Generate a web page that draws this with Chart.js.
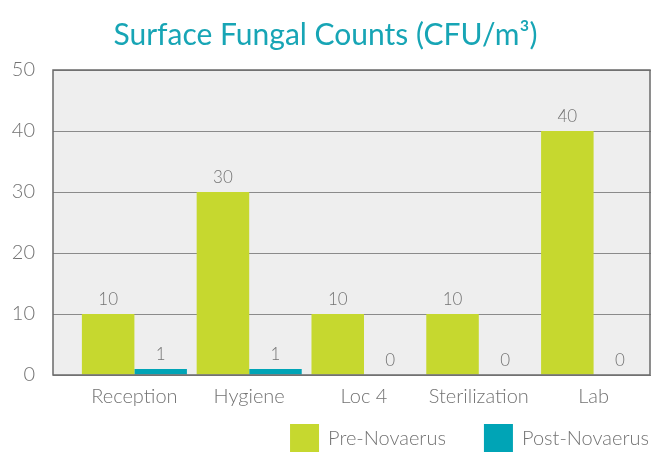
<!DOCTYPE html>
<html>
<head>
<meta charset="utf-8">
<script src="https://cdn.jsdelivr.net/npm/chart.js@4.4.0/dist/chart.umd.min.js"></script>
<style>
  body { margin: 0; background: #fff; }
  #wrap { width: 651px; height: 452px; position: relative; }
</style>
</head>
<body>
<div id="wrap"><canvas id="fungalChart"></canvas></div>
<script>
// ---- data ----
const categories = ["Reception", "Hygiene", "Loc 4", "Sterilization", "Lab"];
const preNovaerus = [10, 30, 10, 10, 40];
const postNovaerus = [1, 1, 0, 0, 0];
const yTickValues = [0, 10, 20, 30, 40, 50];
const seriesNames = ["Pre-Novaerus", "Post-Novaerus"];

const GREEN = "#c6d82f";
const TEAL = "#00a4b6";
const TEXT = "#737373";
const FONT = "Lato";

// grey plot background + frame (frame starts left of the first category)
const frameLeft = 53;
const plotFrame = {
  id: "plotFrame",
  beforeDraw(chart) {
    const y = chart.scales.y;
    const top = y.getPixelForValue(yTickValues[yTickValues.length - 1]);
    const bottom = y.getPixelForValue(yTickValues[0]);
    const ctx = chart.ctx;
    ctx.save();
    ctx.fillStyle = "#eeeeee";
    ctx.fillRect(frameLeft, top, 650 - frameLeft, bottom - top);
    ctx.restore();
  },
  afterDatasetsDraw(chart) {
    const y = chart.scales.y;
    const top = y.getPixelForValue(yTickValues[yTickValues.length - 1]);
    const bottom = y.getPixelForValue(yTickValues[0]);
    const ctx = chart.ctx;
    ctx.save();
    ctx.strokeStyle = "#6a6a6a";
    ctx.lineWidth = 1.5;
    ctx.strokeRect(frameLeft, top, 650 - frameLeft, bottom - top);
    ctx.restore();
  }
};

// value labels above each bar
const barValues = {
  id: "barValues",
  afterDatasetsDraw(chart) {
    const ctx = chart.ctx;
    ctx.save();
    ctx.font = "300 17px " + FONT;
    ctx.fillStyle = TEXT;
    ctx.textAlign = "center";
    ctx.textBaseline = "bottom";
    chart.data.datasets.forEach((ds, i) => {
      chart.getDatasetMeta(i).data.forEach((bar, j) => {
        ctx.fillText(String(ds.data[j]), bar.x, bar.y - 6);
      });
    });
    ctx.restore();
  }
};

// legend, bottom right
const bottomLegend = {
  id: "bottomLegend",
  afterDraw(chart) {
    const ctx = chart.ctx;
    ctx.save();
    ctx.font = "300 20px " + FONT;
    ctx.textBaseline = "middle";
    const boxW = 29, boxH = 28, boxTop = 424, gapText = 9, gapItem = 38;
    let x = 649;
    for (let i = chart.data.datasets.length - 1; i >= 0; i--) {
      const ds = chart.data.datasets[i];
      const w = ctx.measureText(ds.label).width;
      const textX = x - w;
      const boxX = textX - gapText - boxW;
      ctx.fillStyle = ds.backgroundColor;
      ctx.fillRect(boxX, boxTop, boxW, boxH);
      ctx.fillStyle = TEXT;
      ctx.textAlign = "left";
      ctx.fillText(ds.label, textX, boxTop + boxH / 2 + 1);
      x = boxX - gapItem;
    }
    ctx.restore();
  }
};

new Chart(document.getElementById("fungalChart"), {
  type: "bar",
  data: {
    labels: categories,
    datasets: [
      { label: seriesNames[0], data: preNovaerus, backgroundColor: GREEN },
      { label: seriesNames[1], data: postNovaerus, backgroundColor: TEAL }
    ]
  },
  options: {
    responsive: true,
    maintainAspectRatio: false,
    animation: false,
    layout: { padding: { left: 0, right: 0, top: 0, bottom: 44 } },
    datasets: {
      bar: { categoryPercentage: 0.915, barPercentage: 1.0 }
    },
    plugins: {
      legend: { display: false },
      tooltip: { enabled: false },
      title: {
        display: true,
        text: "Surface Fungal Counts (CFU/m³)",
        color: "#17a5b5",
        font: { family: FONT, size: 30, weight: "normal" },
        padding: { top: 17, bottom: 17 }
      }
    },
    scales: {
      x: {
        grid: { display: false, drawTicks: false },
        border: { display: false },
        ticks: {
          color: TEXT,
          font: { family: FONT, size: 20, weight: 300 },
          padding: 10
        },
        afterFit(axis) { axis.height = 33; }
      },
      y: {
        min: yTickValues[0],
        max: yTickValues[yTickValues.length - 1],
        afterBuildTicks(axis) { axis.ticks = yTickValues.map(v => ({ value: v })); },
        grid: { color: "#8a8a8a", lineWidth: 1, drawTicks: true, tickLength: 24 },
        border: { display: false },
        ticks: {
          color: TEXT,
          font: { family: FONT, size: 20, weight: 300 },
          padding: 18
        },
        afterFit(axis) { axis.width = 77; }
      }
    }
  },
  plugins: [plotFrame, barValues, bottomLegend]
});
</script>
</body>
</html>
